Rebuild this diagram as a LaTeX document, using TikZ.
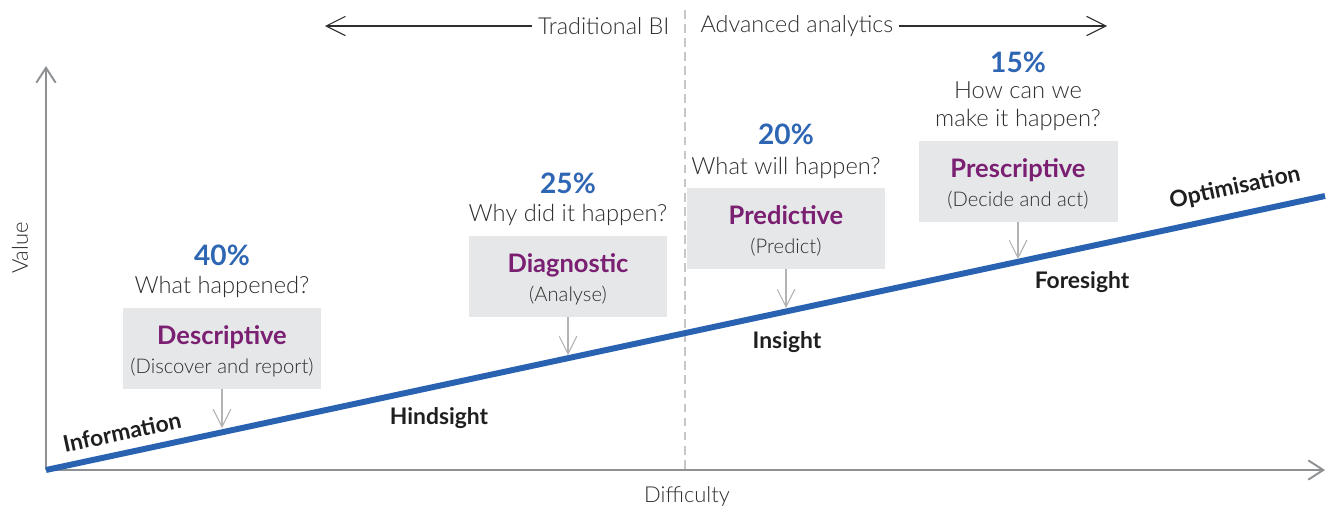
\documentclass[tikz,border=0pt]{standalone}
\usepackage{fontspec}
\setmainfont{Lato}[UprightFont=* Light, BoldFont=* Bold]
\usetikzlibrary{arrows.meta}
\definecolor{barblue}{HTML}{2A62B2}
\definecolor{pctblue}{HTML}{2E66B4}
\definecolor{kindpurple}{HTML}{7A1F72}
\definecolor{boxgray}{HTML}{E6E7E8}
\definecolor{axisgray}{HTML}{8E9194}
\definecolor{tipgray}{HTML}{B3B3B3}
\definecolor{textgray}{HTML}{2E2E2E}
\newcommand{\kindtext}[2]{{\fontsize{14.5}{18}\selectfont\bfseries\color{kindpurple}\rule{0pt}{14pt}#1}\\{#2}}
\begin{document}
\begin{tikzpicture}[x=0.02cm,y=-0.02cm,
	axis/.style={draw=axisgray,line width=1.1pt,-{Straight Barb[length=8.5pt,width=11pt]}},
	toparrow/.style={draw=textgray,line width=0.6pt,-{Straight Barb[length=11pt,width=11pt]}},
	droparrow/.style={draw=tipgray,line width=0.6pt,-{Straight Barb[length=10pt,width=10pt]}},
	trend/.style={draw=barblue,line width=3.4pt},
	kindbox/.style={fill=boxgray,minimum width=3.98cm,minimum height=1.62cm,align=center,
		text=textgray,font=\fontsize{11.5}{16.5}\selectfont},
	pct/.style={text=pctblue,font=\fontsize{16}{19}\selectfont\bfseries},
	question/.style={text=textgray,font=\fontsize{13.5}{16}\selectfont,align=center},
	toplabel/.style={text=textgray,font=\fontsize{13.3}{16}\selectfont,inner sep=3pt},
	linelabel/.style={text=black!88,font=\fontsize{13}{15}\selectfont\bfseries},
	axislabel/.style={text=textgray,font=\fontsize{12.5}{14}\selectfont}]
	\useasboundingbox (0,0) rectangle (1327,508);
	% axes and dashed split
	\coordinate (O) at (46,470);
	\coordinate (ytop) at (46,66);
	\coordinate (xend) at (1325,470);
	\coordinate (lineend) at (1325,196);
	\coordinate (splittop) at (685,10);
	\coordinate (splitbot) at (685,470);
	\draw[draw=black!22,line width=1pt,dash pattern=on 5pt off 3pt](splittop)--(splitbot);
	\draw[axis](O)--(ytop);
	\draw[axis](O)--(xend);
	\draw[trend](O)--(lineend);
	\node[axislabel,rotate=90] (value) at (20,248) {Value};
	\node[axislabel] (difficulty) at (687,496) {Difficulty};
	% top arrows
	\node[toplabel,anchor=east] (trad) at (675,26) {Traditional BI};
	\node[toplabel,anchor=west] (adv) at (695,26) {Advanced analytics};
	\coordinate (tradend) at (325,26);
	\coordinate (advend) at (1107,26);
	\draw[toparrow](trad)--(tradend);
	\draw[toparrow](adv)--(advend);
	% labels on the line
	\node[linelabel,rotate=12.1] (information) at (122,432) {Information};
	\node[linelabel] (hindsight) at (439,418) {Hindsight};
	\node[linelabel] (insight) at (787,342) {Insight};
	\node[linelabel] (foresight) at (1082,282) {Foresight};
	\node[linelabel,rotate=12.1] (optimisation) at (1235,188) {Optimisation};
	% descriptive
	\node[pct] (p40) at (222,255) {40\%};
	\node[question] (q40) at (222,287) {What happened?};
	\node[kindbox] (desc) at (222,348.5) {\kindtext{Descriptive}{(Discover and report)}};
	\coordinate (descpt) at (222,428);
	\draw[droparrow](desc)--(descpt);
	% diagnostic
	\node[pct] (p25) at (568,183) {25\%};
	\node[question] (q25) at (568,215) {Why did it happen?};
	\node[kindbox] (diag) at (568,276.5) {\kindtext{Diagnostic}{(Analyse)}};
	\coordinate (diagpt) at (568,355);
	\draw[droparrow](diag)--(diagpt);
	% predictive
	\node[pct] (p20) at (786,134) {20\%};
	\node[question] (q20) at (786,168) {What will happen?};
	\node[kindbox] (pred) at (786,228.5) {\kindtext{Predictive}{(Predict)}};
	\coordinate (predpt) at (786,308);
	\draw[droparrow](pred)--(predpt);
	% prescriptive
	\node[pct] (p15) at (1018,62) {15\%};
	\node[question] (q15) at (1018,106) {How can we\\make it happen?};
	\node[kindbox] (pres) at (1018,181.5) {\kindtext{Prescriptive}{(Decide and act)}};
	\coordinate (prespt) at (1018,259);
	\draw[droparrow](pres)--(prespt);
\end{tikzpicture}
\end{document}
